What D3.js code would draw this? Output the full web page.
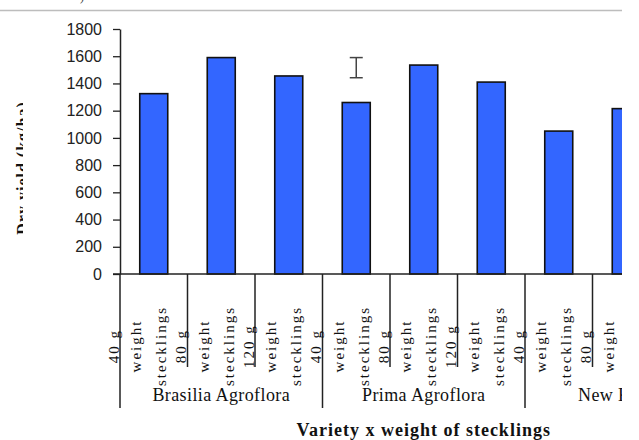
<!DOCTYPE html>
<html>
<head>
<meta charset="utf-8">
<script src="https://cdn.jsdelivr.net/npm/d3@7"></script>
<style>
  html, body { margin: 0; padding: 0; background: #fff; }
  svg { display: block; }
</style>
</head>
<body>
<svg id="chart" width="639" height="440"></svg>
<script>
// ---- data ----
const varieties = ["Brasilia Agroflora", "Prima Agroflora", "New Kuroda"];
const weights = ["40 g", "80 g", "120 g"];
const categories = [
  "Brasilia 40 g", "Brasilia 80 g", "Brasilia 120 g",
  "Prima 40 g", "Prima 80 g", "Prima 120 g",
  "New 40 g", "New 80 g", "New 120 g"
];
const yieldValues = [1325, 1590, 1455, 1260, 1535, 1410, 1050, 1215];
const lsdCategory = "Prima 40 g";
const lsdLow = 1442;
const lsdHigh = 1590;
const yTicks = [0, 200, 400, 600, 800, 1000, 1200, 1400, 1600, 1800];
const labelLines = ["weight", "stecklings"];
const yTitle = "Dry yield (kg/ha)";
const xTitle = "Variety x weight of stecklings";

(function () {
// ---- layout ----
const svg = d3.select("#chart");
const mLeft = 120, mRight = 727.5, mTop = 29, mBottom = 274;
const visibleRight = 622;
const x = d3.scaleBand().domain(categories).range([mLeft, mRight]).paddingInner(0).paddingOuter(0);
const y = d3.scaleLinear().domain([0, 1800]).range([mBottom, mTop]);
const barW = 28;

// page decoration
svg.append("line").attr("x1", 0).attr("x2", visibleRight).attr("y1", 10.5).attr("y2", 10.5)
  .attr("stroke", "#bdbdbd").attr("stroke-width", 1.5);
svg.append("text").attr("x", 80).attr("y", 1).attr("font-family", "Liberation Serif")
  .attr("font-size", 12).attr("fill", "#444").text(")");

// clip
const defs = svg.append("defs");
defs.append("clipPath").attr("id", "clipR")
  .append("rect").attr("x", 0).attr("y", 12).attr("width", visibleRight).attr("height", 440);
defs.append("clipPath").attr("id", "clipY")
  .append("rect").attr("x", 14).attr("y", 90).attr("width", 9).attr("height", 160);

const g = svg.append("g").attr("clip-path", "url(#clipR)");

// y title (partly hidden, as in the source)
svg.append("g").attr("clip-path", "url(#clipY)")
  .append("text")
  .attr("transform", `translate(28,168) rotate(-90)`)
  .attr("text-anchor", "middle")
  .attr("font-family", "Liberation Serif").attr("font-weight", "bold")
  .attr("font-size", 16).attr("letter-spacing", 1).attr("fill", "#111")
  .text(yTitle);

// y axis
const yAxis = d3.axisLeft(y).tickValues(yTicks).tickFormat(d3.format("d"))
  .tickSize(7).tickPadding(11).tickSizeOuter(0);
const ya = g.append("g").attr("transform", `translate(${mLeft},0)`).call(yAxis);
ya.select(".domain").attr("stroke", "#222").attr("stroke-width", 1.5);
ya.selectAll(".tick line").attr("stroke", "#222").attr("stroke-width", 1.3);
ya.selectAll(".tick text").attr("font-family", "Liberation Sans").attr("font-size", 16)
  .attr("fill", "#222");

// bars
g.selectAll("rect.bar").data(yieldValues).enter().append("rect")
  .attr("class", "bar")
  .attr("x", (d, i) => x(categories[i]) + (x.bandwidth() - barW) / 2)
  .attr("y", d => y(d))
  .attr("width", barW)
  .attr("height", d => y(0) - y(d))
  .attr("fill", "#3366ff")
  .attr("stroke", "#111").attr("stroke-width", 1.6);

// x axis line
g.append("line").attr("x1", mLeft - 7).attr("x2", mRight).attr("y1", mBottom).attr("y2", mBottom)
  .attr("stroke", "#222").attr("stroke-width", 1.5);

// separators
categories.forEach((c, i) => {
  const xs = x(c);
  const isGroup = i % weights.length === 0;
  g.append("line").attr("x1", xs).attr("x2", xs).attr("y1", mBottom).attr("y2", isGroup ? 408 : 367)
    .attr("stroke", "#222").attr("stroke-width", 1.5);
});

// category labels (rotated, three lines each)
const lineOffsets = [-35, -12.5, 12.5];
categories.forEach((c, i) => {
  const cx = x(c) + x.bandwidth() / 2;
  const lines = [weights[i % weights.length]].concat(labelLines);
  lines.forEach((t, j) => {
    const bx = cx + lineOffsets[j];
    if (bx - 14 > visibleRight) return; // entirely outside the visible crop
    g.append("text")
      .attr("transform", `translate(${bx},346) rotate(-90)`)
      .attr("text-anchor", "middle")
      .attr("font-family", "Liberation Serif").attr("font-size", 15)
      .attr("letter-spacing", 2).attr("fill", "#111")
      .text(t);
  });
});

// variety labels
varieties.forEach((v, k) => {
  const x0 = x(categories[k * 3]);
  const x1 = x(categories[k * 3 + 2]) + x.bandwidth();
  g.append("text").attr("x", (x0 + x1) / 2).attr("y", 401)
    .attr("text-anchor", "middle")
    .attr("font-family", "Liberation Serif").attr("font-size", 18)
    .attr("letter-spacing", 0.4).attr("fill", "#111")
    .text(v);
});

// x title
g.append("text").attr("x", (mLeft + mRight) / 2).attr("y", 436)
  .attr("text-anchor", "middle")
  .attr("font-family", "Liberation Serif").attr("font-weight", "bold").attr("font-size", 18)
  .attr("letter-spacing", 1).attr("fill", "#111")
  .text(xTitle);

// LSD bar
const ex = x(lsdCategory) + x.bandwidth() / 2;
const eg = g.append("g").attr("stroke", "#444").attr("stroke-width", 1.5);
eg.append("line").attr("x1", ex).attr("x2", ex).attr("y1", y(lsdHigh)).attr("y2", y(lsdLow));
eg.append("line").attr("x1", ex - 6.5).attr("x2", ex + 6.5).attr("y1", y(lsdHigh)).attr("y2", y(lsdHigh));
eg.append("line").attr("x1", ex - 6.5).attr("x2", ex + 6.5).attr("y1", y(lsdLow)).attr("y2", y(lsdLow));
})();
</script>
</body>
</html>
